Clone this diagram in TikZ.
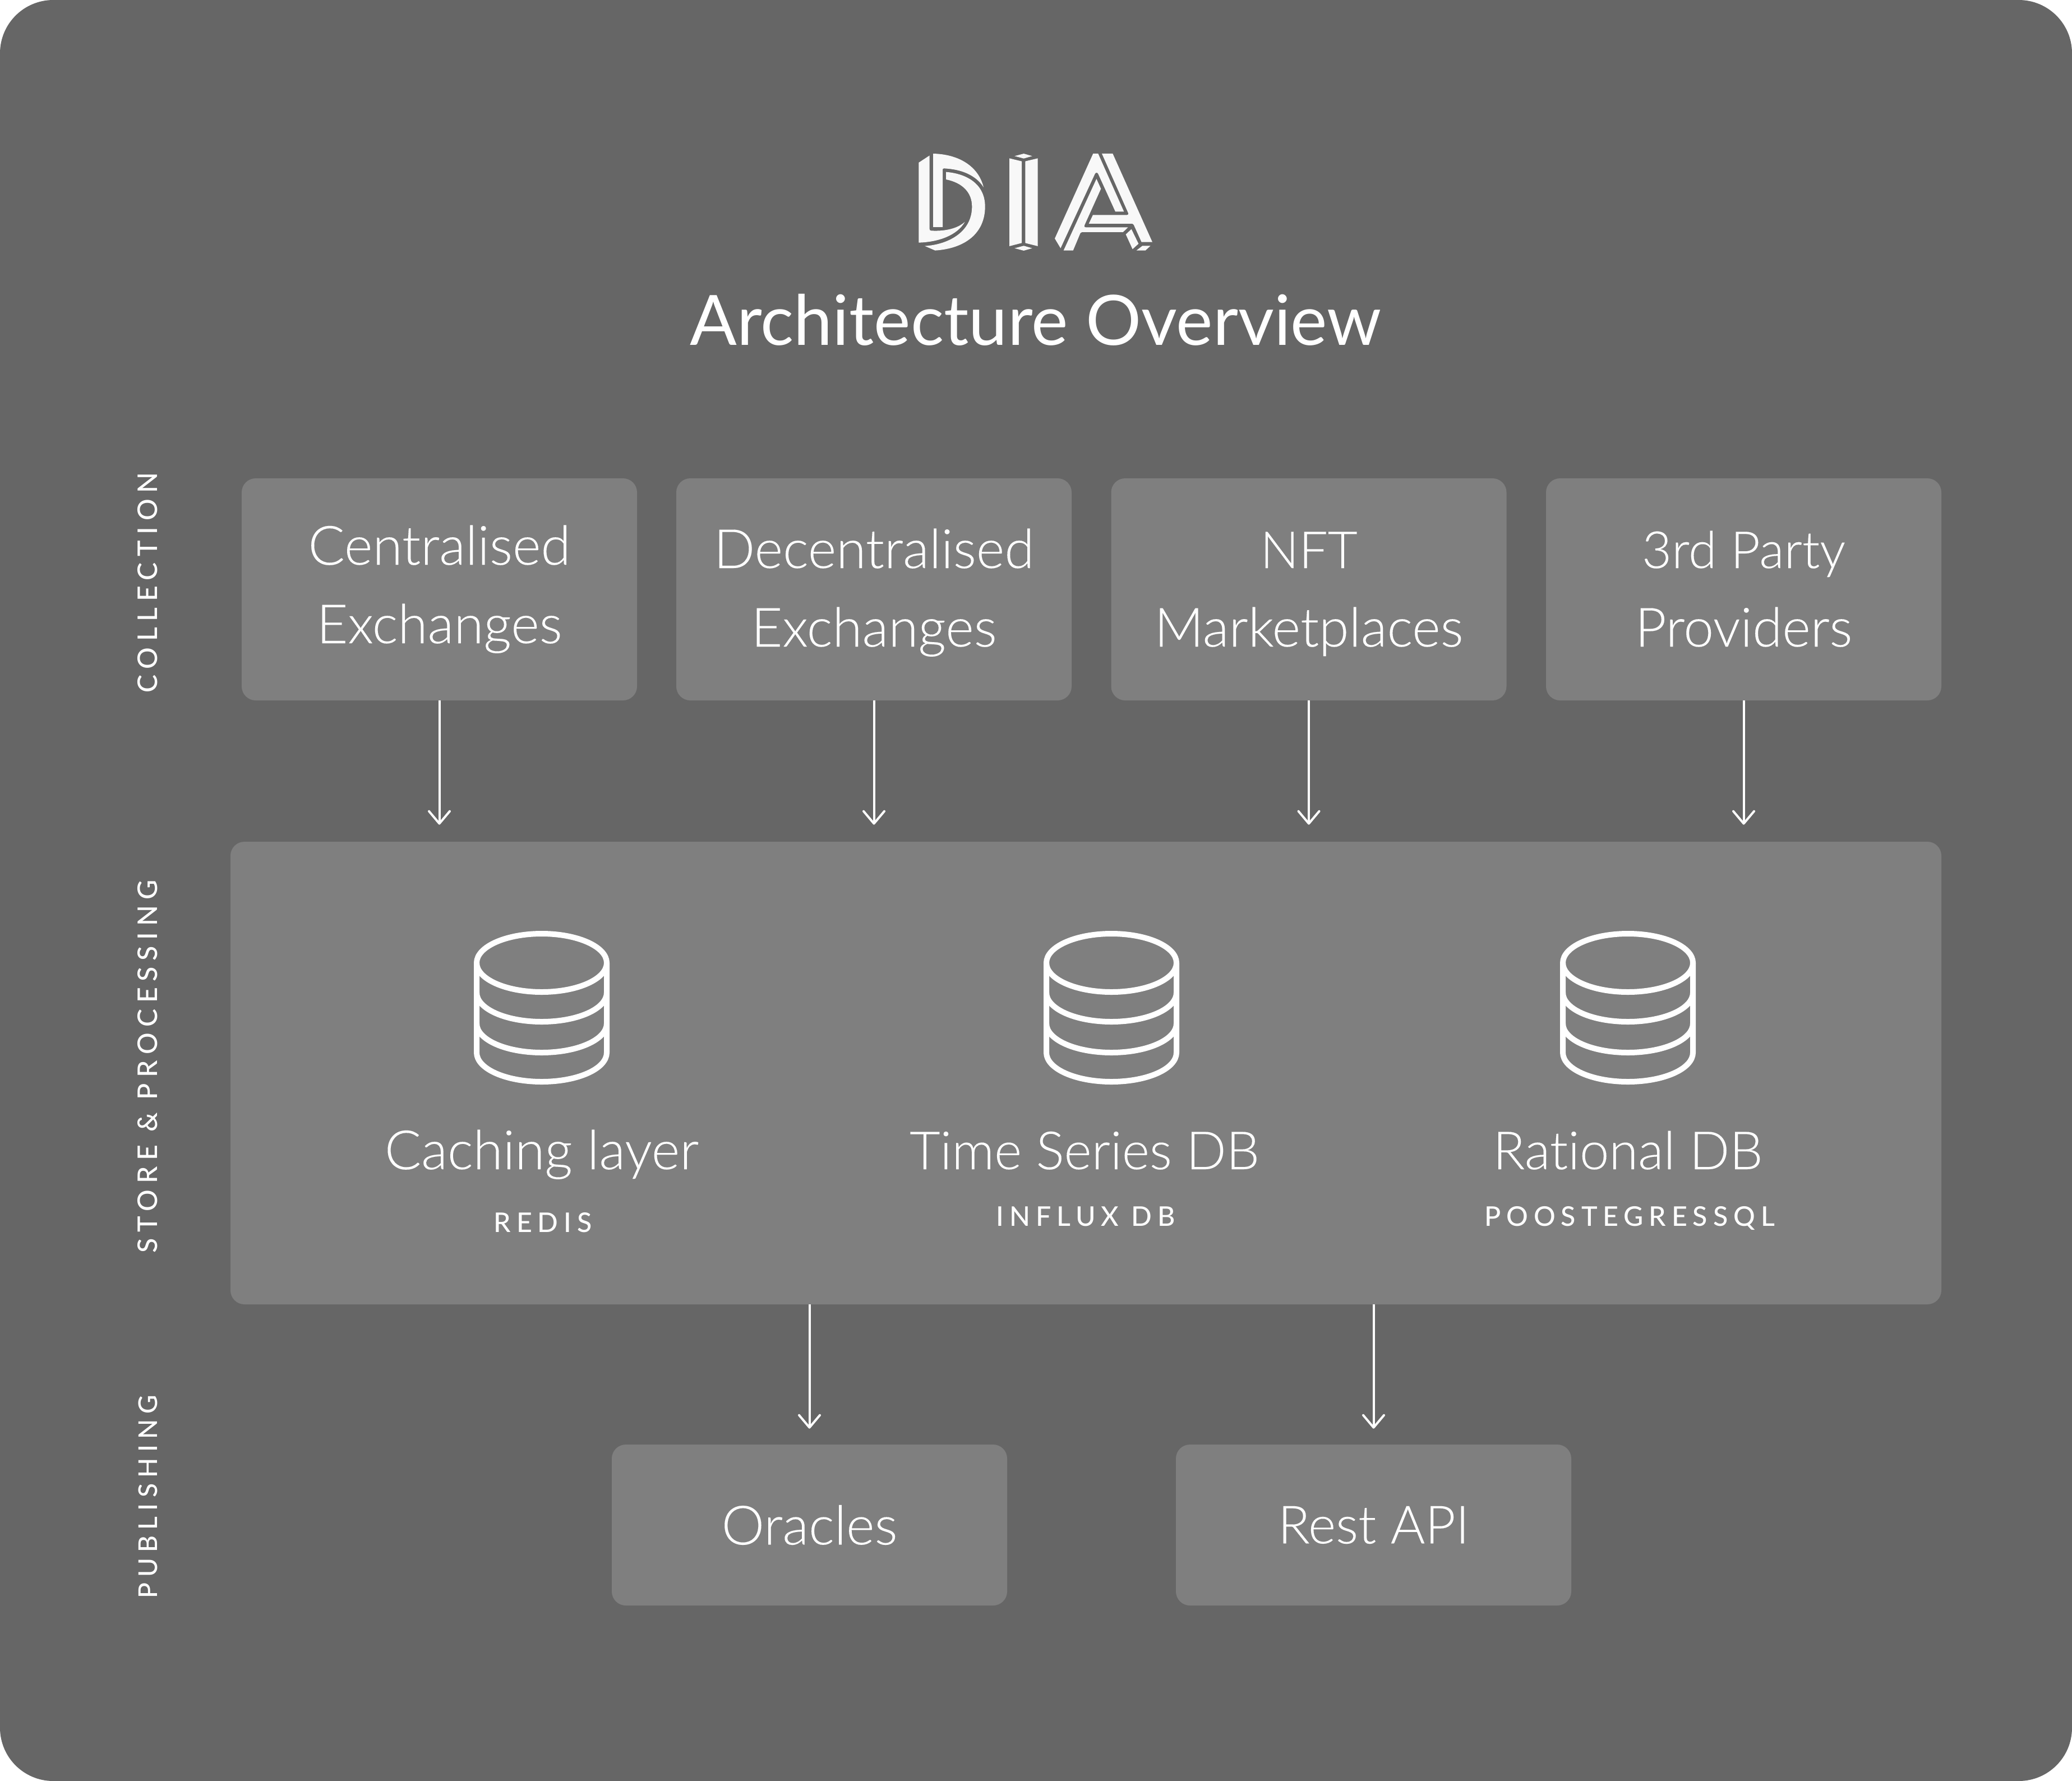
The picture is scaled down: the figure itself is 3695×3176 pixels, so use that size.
\documentclass[tikz,border=0pt]{standalone}
\usepackage{fontspec}
\setmainfont{Lato}
\newfontfamily\lightf[Ligatures=NoCommon,FakeBold=0.12]{Lato Light}
\newfontfamily\spacedf[LetterSpace=20.5]{Lato Medium}
\newfontfamily\sidef[LetterSpace=22]{Lato Medium}
\usetikzlibrary{arrows.meta}
\definecolor{bgc}{HTML}{666666}
\definecolor{boxc}{HTML}{7F7F7F}
\definecolor{logoc}{HTML}{F8F8F8}
\tikzset{
  boxn/.style={fill=boxc,draw=none,rounded corners=0.5cm,inner sep=0pt,align=center,text=white,font=\lightf\fontsize{55}{80}\selectfont},
  captext/.style={text=white,anchor=base,inner sep=0pt,font=\lightf\fontsize{55}{60}\selectfont},
  capnarrow/.style={text=white,anchor=base,inner sep=0pt,font=\lightf\fontsize{53.5}{60}\selectfont},
  capshort/.style={text=white,anchor=base,inner sep=0pt,font=\lightf\fontsize{52}{60}\selectfont},
  subcap/.style={text=white,anchor=base,inner sep=0pt,font=\spacedf\fontsize{27.5}{30}\selectfont},
  sidecap/.style={text=white,rotate=90,anchor=base,inner sep=0pt,font=\sidef\fontsize{27.5}{30}\selectfont},
  flow/.style={draw=white,line width=4*0.02cm,-{Straight Barb[length=0.44cm,width=0.74cm,line width=4*0.02cm,round]}},
  dbicon/.style={draw=white,line width=0.2cm,line join=round},
  logop/.style={fill=logoc,draw=none}
}
\newcommand{\dbat}[2]{%
  \begin{scope}[shift={(#1,#2)}]
    \draw[dbicon] (0,1717) ellipse [x radius=116, y radius=52];
    \draw[dbicon] (-116,1717) -- (-116,1877) .. controls (-116,1906) and (-64,1929) .. (0,1929) .. controls (64,1929) and (116,1906) .. (116,1877) -- (116,1717);
    \draw[dbicon] (-116,1770) .. controls (-116,1799) and (-64,1822) .. (0,1822) .. controls (64,1822) and (116,1799) .. (116,1770);
    \draw[dbicon] (-116,1825) .. controls (-116,1854) and (-64,1877) .. (0,1877) .. controls (64,1877) and (116,1854) .. (116,1825);
  \end{scope}}
\begin{document}
\begin{tikzpicture}[x=0.02cm,y=-0.02cm]
\useasboundingbox (0,0) rectangle (3695,3176);
\fill[bgc,rounded corners=1.9cm] (0,0) rectangle (3695,3176);
% logo
\begin{scope}[shift={(1580,240)},x=0.02cm/3,y=-0.02cm/3]
\fill[logop] (175,150) -- (233,112) -- (233,505) .. controls (233,511) and (236,514) .. (242,514) .. controls (310,518) and (380,505) .. (422,467) .. controls (380,540) and (280,575) .. (175,578) -- cycle;
\fill[logop] (252,102) .. controls (390,105) and (495,170) .. (522,282) .. controls (480,215) and (400,185) .. (310,181) .. controls (305,181) and (303,184) .. (303,188) -- (303,495) -- (252,495) -- cycle;
\fill[logop] (321,200) .. controls (440,210) and (530,270) .. (530,385) .. controls (530,530) and (420,610) .. (263,620) -- (207,596) .. controls (320,590) and (460,530) .. (460,385) .. controls (460,310) and (410,258) .. (321,240) -- cycle;
\fill[logop] (660,127) -- (726,143) -- (726,580) -- (660,597) -- cycle;
\fill[logop] (745,143) -- (812,127) -- (812,597) -- (745,580) -- cycle;
\fill[logop] (688,115) -- (737,102) -- (782,115) -- (737,128) -- cycle;
\fill[logop] (688,608) -- (737,595) -- (782,608) -- (737,621) -- cycle;
\fill[logop] (903,556) -- (1108,102) -- (1135,102) -- (1273,412) -- (1227,412) -- (1135,210) .. controls (1131,202) and (1122,202) .. (1118,210) -- (934,608) -- cycle;
\fill[logop] (1155,102) -- (1213,102) -- (1425,575) -- (1367,575) -- (1325,482) .. controls (1323,478) and (1321,477) .. (1318,477) -- (1085,477) -- (1107,430) -- (1290,430) .. controls (1296,430) and (1298,425) .. (1296,420) -- cycle;
\fill[logop] (1126,237) -- (1150,290) -- (1062,485) .. controls (1059,491) and (1061,496) .. (1067,496) -- (1295,496) -- (1268,522) -- (1048,522) .. controls (1044,522) and (1042,524) .. (1040,527) -- (1001,620) -- (950,620) -- cycle;
\fill[logop] (1283,534) -- (1313,506) -- (1351,584) -- (1319,613) -- cycle;
\fill[logop] (1340,620) -- (1372,595) -- (1415,595) -- (1388,620) -- cycle;
\end{scope}
\node[text=white,anchor=base,inner sep=0pt,font=\fontsize{70.5}{74}\selectfont] (title) at (1847,615) {Architecture Overview};
% top row
\node[boxn,minimum width=705*0.02cm,minimum height=396*0.02cm] (c1) at (783.5,1051) {};
\node[boxn,minimum width=705*0.02cm,minimum height=396*0.02cm] (c2) at (1558.5,1051) {};
\node[boxn,minimum width=705*0.02cm,minimum height=396*0.02cm] (c3) at (2334,1051) {};
\node[boxn,minimum width=705*0.02cm,minimum height=396*0.02cm] (c4) at (3109.5,1051) {};
\node[captext] (c1a) at (783.5,1007) {Centralised};
\node[captext] (c1b) at (783.5,1147) {Exchanges};
\node[captext] (c2a) at (1558.5,1013) {Decentralised};
\node[captext] (c2b) at (1558.5,1153) {Exchanges};
\node[capshort] (c3a) at (2334,1013) {NFT};
\node[captext] (c3b) at (2334,1153) {Marketplaces};
\node[capshort] (c4a) at (3109.5,1013) {3rd Party};
\node[captext] (c4b) at (3109.5,1153) {Providers};
% main
\node[boxn,minimum width=3051*0.02cm,minimum height=825*0.02cm] (main) at (1936.5,1913.5) {};
\dbat{966}{0}
\dbat{1982}{0}
\dbat{2903}{0}
\node[captext] (l1) at (966,2085) {Caching layer};
\node[capnarrow] (l2) at (1934,2085) {Time Series DB};
\node[capnarrow] (l3) at (2903,2085) {Rational DB};
\node[subcap] (s1) at (968,2197) {REDIS};
\node[subcap] (s2) at (1936,2186) {INFLUX DB};
\node[subcap] (s3) at (2906,2186) {POOSTEGRESSQL};
% bottom
\node[boxn,minimum width=705*0.02cm,minimum height=287*0.02cm] (p1) at (1443.5,2719.5) {Oracles};
\node[boxn,minimum width=705*0.02cm,minimum height=287*0.02cm] (p2) at (2449.5,2719.5) {\fontsize{53.5}{60}\selectfont Rest API};
% side
\node[sidecap] (a1) at (280,1039) {COLLECTION};
\node[sidecap] (a2) at (280,1902) {STORE \& PROCESSING};
\node[sidecap,font=\sidef\fontsize{26.3}{30}\selectfont] (a3) at (280,2669) {PUBLISHING};
% arrows
\foreach \n in {c1,c2,c3,c4}
  \draw[flow,shorten >=0.6cm] (\n.south) -- (\n.south |- main.north);
\foreach \n in {p1,p2}
  \draw[flow,shorten >=0.56cm] (main.south -| \n.north) -- (\n.north);
\end{tikzpicture}
\end{document}
